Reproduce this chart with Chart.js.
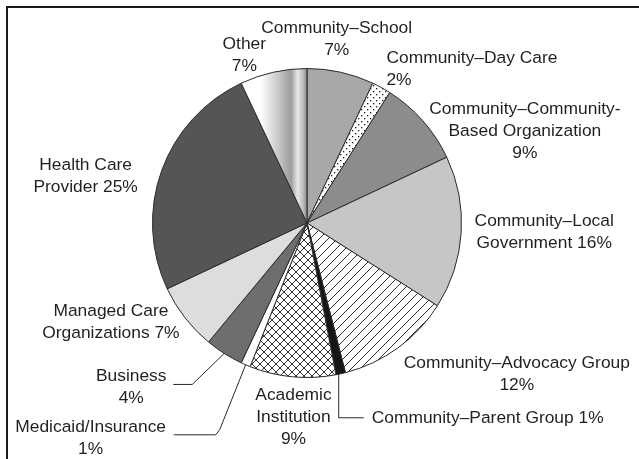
<!DOCTYPE html>
<html>
<head>
<meta charset="utf-8">
<script src="https://cdn.jsdelivr.net/npm/chart.js@4/dist/chart.umd.min.js"></script>
<style>
  html, body { margin: 0; padding: 0; background: #fff; }
</style>
</head>
<body>
<canvas id="pie" width="639" height="459"></canvas>
<script>
// data, clockwise from 12 o'clock
const categories = [
    'Community–School', 'Community–Day Care', 'Community–Community-Based Organization',
    'Community–Local Government', 'Community–Advocacy Group', 'Community–Parent Group',
    'Academic Institution', 'Medicaid/Insurance', 'Business',
    'Managed Care Organizations', 'Health Care Provider', 'Other'
];
const shares = [7, 2, 9, 16, 12, 1, 9, 1, 4, 7, 25, 7];
const labelLines = [
    ['Community–School', '7%'],
    ['Community–Day Care', '2%'],
    ['Community–Community-', 'Based Organization', '9%'],
    ['Community–Local', 'Government 16%'],
    ['Community–Advocacy Group', '12%'],
    ['Community–Parent Group 1%'],
    ['Academic', 'Institution', '9%'],
    ['Medicaid/Insurance', '1%'],
    ['Business', '4%'],
    ['Managed Care', 'Organizations 7%'],
    ['Health Care', 'Provider 25%'],
    ['Other', '7%']
];

// fill of each slice: plain colour or a pattern name
const fills = ['#a7a8aa', 'dots', '#8b8c8e', '#c5c6c8', 'hatch', '#161616',
               'cross', '#ffffff', '#6d6e70', '#dcdddf', '#545557', 'shade'];

// label placement relative to the outer midpoint of each slice
const labelLayout = [
    { dx: -4, dy: -44, align: 'center' },
    { dx: 5, dy: -29, align: 'left' },
    { dx: 102, dy: -12, align: 'center' },
    { dx: 83, dy: -11, align: 'center' },
    { dx: 119, dy: 15, align: 'center' },
    { dx: 31, dy: 44, align: 'left', leader: [[-2, 0], [-2, 44], [23, 44]] },
    { dx: 1, dy: 18, align: 'center' },
    { dx: -155, dy: 62, align: 'center', leader: [[0, 0], [-26, 65], [-30, 70], [-72, 70]] },
    { dx: -93, dy: 23, align: 'center', leader: [[0, 0], [-32, 31], [-51, 31]] },
    { dx: -74, dy: -6, align: 'center' },
    { dx: -76, dy: -5, align: 'center' },
    { dx: -29, dy: -28, align: 'center' }
];

const canvas = document.getElementById('pie');
const mainCtx = canvas.getContext('2d');

function makePattern(size, draw) {
    const c = document.createElement('canvas');
    c.width = c.height = size;
    const g = c.getContext('2d');
    g.fillStyle = '#fff';
    g.fillRect(0, 0, size, size);
    g.strokeStyle = '#1a1a1a';
    g.fillStyle = '#1a1a1a';
    draw(g, size);
    return mainCtx.createPattern(c, 'repeat');
}

const patterns = {
    dots: makePattern(6, (g) => {
        g.fillRect(1, 1, 1.3, 1.3);
        g.fillRect(4, 4, 1.3, 1.3);
    }),
    hatch: makePattern(9, (g, s) => {
        g.lineWidth = 0.9;
        g.beginPath();
        g.moveTo(0, s); g.lineTo(s, 0);
        g.moveTo(-1, 1); g.lineTo(1, -1);
        g.moveTo(s - 1, s + 1); g.lineTo(s + 1, s - 1);
        g.stroke();
    }),
    cross: makePattern(8, (g, s) => {
        g.lineWidth = 0.9;
        g.beginPath();
        g.moveTo(0, s); g.lineTo(s, 0);
        g.moveTo(0, 0); g.lineTo(s, s);
        g.moveTo(-1, 1); g.lineTo(1, -1);
        g.moveTo(s - 1, s + 1); g.lineTo(s + 1, s - 1);
        g.moveTo(-1, s - 1); g.lineTo(1, s + 1);
        g.moveTo(s - 1, -1); g.lineTo(s + 1, 1);
        g.stroke();
    })
};

function sliceFill(c) {
    const f = fills[c.dataIndex];
    if (f === 'shade') {
        const area = c.chart.chartArea;
        if (!area) return '#eeeeee';
        const cx = (area.left + area.right) / 2;
        const r = Math.min(area.width, area.height) / 2;
        const g = c.chart.ctx.createLinearGradient(cx - r * 0.43, 0, cx, 0);
        g.addColorStop(0, '#ffffff');
        g.addColorStop(0.3, '#ffffff');
        g.addColorStop(0.6, '#c2c2c2');
        g.addColorStop(0.76, '#9c9c9c');
        g.addColorStop(0.86, '#e8e8e8');
        g.addColorStop(0.94, '#bdbdbd');
        g.addColorStop(1, '#8a8a8a');
        return g;
    }
    return patterns[f] || f;
}

// frame of the figure, left and top edges
const framePlugin = {
    id: 'frame',
    beforeDraw(chart) {
        const ctx = chart.ctx;
        ctx.save();
        ctx.fillStyle = '#1a1a1a';
        ctx.fillRect(6, 6, 2, chart.height - 6);
        ctx.fillRect(6, 6, chart.width - 6, 2);
        ctx.restore();
    }
};

// outside labels with leader lines
const labelPlugin = {
    id: 'sliceLabels',
    afterDraw(chart) {
        const ctx = chart.ctx;
        const arcs = chart.getDatasetMeta(0).data;
        ctx.save();
        ctx.font = '17.4px "Liberation Sans", Arial, sans-serif';
        ctx.fillStyle = '#231f20';
        ctx.textBaseline = 'middle';
        arcs.forEach((arc, i) => {
            const p = arc.getProps(['x', 'y', 'startAngle', 'endAngle', 'outerRadius'], true);
            const mid = (p.startAngle + p.endAngle) / 2;
            const ox = p.x + p.outerRadius * Math.cos(mid);
            const oy = p.y + p.outerRadius * Math.sin(mid);
            const lay = labelLayout[i];
            if (lay.leader) {
                ctx.strokeStyle = '#2a2a2a';
                ctx.lineWidth = 1;
                ctx.beginPath();
                lay.leader.forEach(([lx, ly], k) => {
                    if (k === 0) ctx.moveTo(ox + lx, oy + ly);
                    else ctx.lineTo(ox + lx, oy + ly);
                });
                ctx.stroke();
            }
            ctx.textAlign = lay.align;
            labelLines[i].forEach((line, k) => {
                ctx.fillText(line, ox + lay.dx, oy + lay.dy + k * 22);
            });
        });
        ctx.restore();
    }
};

new Chart(canvas, {
    type: 'pie',
    data: {
        labels: categories,
        datasets: [{
            data: shares,
            backgroundColor: sliceFill,
            borderColor: '#2b2b2b',
            borderWidth: 1
        }]
    },
    options: {
        responsive: false,
        animation: false,
        layout: { padding: { left: 152, right: 177, top: 68, bottom: 81 } },
        plugins: {
            legend: { display: false },
            tooltip: { enabled: false }
        }
    },
    plugins: [framePlugin, labelPlugin]
});
</script>
</body>
</html>
